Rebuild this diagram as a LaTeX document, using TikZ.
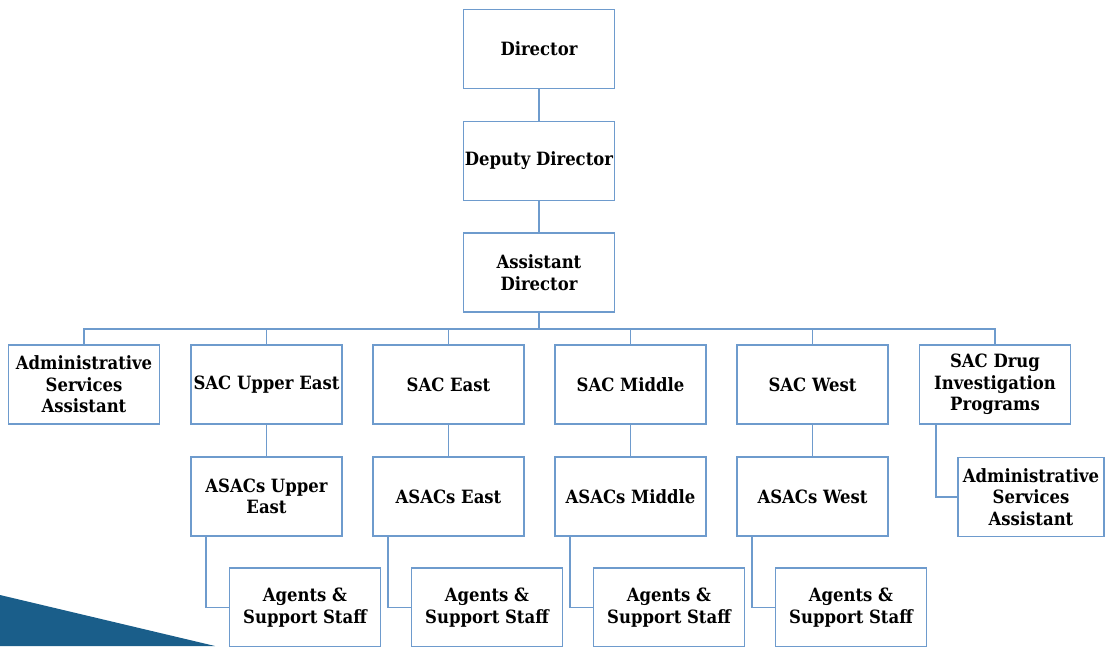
\documentclass[tikz,border=0pt]{standalone}
\usepackage{fontspec}
\setmainfont{DejaVu Serif Condensed}[BoldFont={DejaVu Serif Condensed Bold}]
\definecolor{boxblue}{RGB}{110,155,205}
\definecolor{tri}{RGB}{26,94,138}
\begin{document}
\begin{tikzpicture}[x=1pt,y=-1pt,
  box/.style={draw=boxblue,line width=1.8pt,fill=white,minimum width=151pt,minimum height=79pt,
    align=center,inner sep=1pt,font=\fontsize{18.3}{21.5}\selectfont\bfseries},
  link/.style={draw=boxblue,line width=1.8pt}]
\useasboundingbox (0,0) rectangle (1109,646);
\clip (0,0) rectangle (1109,646);
\fill[tri] (0,595) -- (215,646) -- (0,646) -- cycle;
% top chain
\node[box] (dir) at (539,49) {Director};
\node[box] (dep) at (539,161) {Deputy Director};
\node[box] (ad) at (539,272.5) {Assistant\\Director};
% row 2
\node[box] (asa) at (84,384.5) {Administrative\\Services\\Assistant};
\node[box] (sue) at (266.5,384.5) {SAC Upper East};
\node[box] (se) at (448.5,384.5) {SAC East};
\node[box] (sm) at (630.5,384.5) {SAC Middle};
\node[box] (sw) at (812.5,384.5) {SAC West};
\node[box] (sd) at (995,384.5) {SAC Drug\\Investigation\\Programs};
% row 3
\node[box] (aue) at (266.5,496.5) {ASACs Upper\\East};
\node[box] (ae) at (448.5,496.5) {ASACs East};
\node[box] (am) at (630.5,496.5) {ASACs Middle};
\node[box] (aw) at (812.5,496.5) {ASACs West};
\node[box,minimum width=146pt] (asa2) at (1031,497) {Administrative\\Services\\Assistant};
% row 4
\node[box] (gue) at (305,607.5) {Agents \&\\Support Staff};
\node[box] (ge) at (487,607.5) {Agents \&\\Support Staff};
\node[box] (gm) at (669,607.5) {Agents \&\\Support Staff};
\node[box] (gw) at (851,607.5) {Agents \&\\Support Staff};
% connectors
\draw[link] (dir.south) -- (dep.north);
\draw[link] (dep.south) -- (ad.north);
\coordinate (bus) at (539,329);
\draw[link] (ad.south) -- (bus);
\draw[link] (asa.north) |- (bus) -| (sd.north);
\foreach \n in {sue,se,sm,sw} \draw[link] (\n.north) -- (\n.north |- bus);
\draw[link] (sue.south) -- (aue.north);
\draw[link] (se.south) -- (ae.north);
\draw[link] (sm.south) -- (am.north);
\draw[link] (sw.south) -- (aw.north);
\draw[link] ([xshift=17pt]sd.south west) |- (asa2.west);
\draw[link] ([xshift=16pt]aue.south west) |- (gue.west);
\draw[link] ([xshift=16pt]ae.south west) |- (ge.west);
\draw[link] ([xshift=16pt]am.south west) |- (gm.west);
\draw[link] ([xshift=16pt]aw.south west) |- (gw.west);
\end{tikzpicture}
\end{document}
